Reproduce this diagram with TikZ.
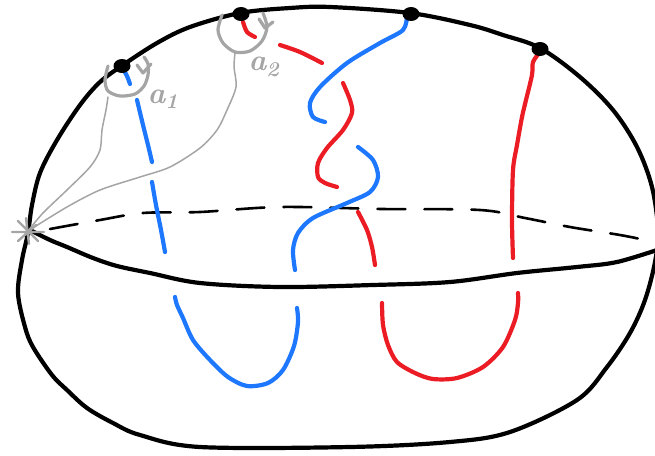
\documentclass[tikz,border=0pt]{standalone}
\usepackage{fontspec}
\definecolor{kblue}{RGB}{30,120,255}
\definecolor{kred}{RGB}{236,28,36}
\definecolor{kgray}{RGB}{165,165,165}
\begin{document}
\begin{tikzpicture}[x=1pt,y=-1pt,
  outline/.style={line width=4.2pt,line cap=round,line join=round},
  rim/.style={line width=2.6pt,line cap=round,dash pattern=on 28pt off 19pt},
  strand/.style={line width=4.2pt,line cap=round,line join=round},
  bluestrand/.style={strand,draw=kblue},
  redstrand/.style={strand,draw=kred},
  loopline/.style={line width=3.2pt,draw=kgray,line cap=round,line join=round},
  thinline/.style={line width=1.5pt,draw=kgray,line cap=round,line join=round},
  looplabel/.style={text=kgray,font=\fontsize{30}{30}\selectfont\bfseries\itshape,inner sep=0pt}]
\useasboundingbox (0,0) rectangle (655,455);

% boundary of the ball
\draw[outline] plot[smooth cycle,tension=0.55] coordinates {
  (28,233) (32,205) (40,173) (57,140) (80,105) (100,82) (123,65) (157,43)
  (190,27) (240,13) (290,8) (330,7) (410,13) (470,25) (503,35) (540,48)
  (580,77) (613,110) (637,147) (652,187) (658,230) (655,262) (645,300)
  (630,333) (607,367) (577,400) (510,432) (450,442) (350,447) (200,447)
  (140,435) (113,423) (87,408) (67,390) (52,375) (33,347) (25,327)
  (18,293) (22,260)};

% equator: front half solid, back half dashed
\draw[outline] plot[smooth,tension=0.55] coordinates {
  (30,230) (50,240) (67,247) (93,258) (117,266) (150,273) (200,283)
  (280,287) (373,285) (450,282) (517,273) (577,267) (617,262) (660,249)};
\draw[rim] plot[smooth,tension=0.55] coordinates {
  (50,229) (100,220) (143,213) (200,212) (280,207) (382,209) (480,210)
  (525,218) (570,227) (620,235) (645,240)};

% punctures on the boundary
\coordinate (p1) at (122,66);
\coordinate (p2) at (241,14);
\coordinate (p3) at (411,14);
\coordinate (p4) at (540,49);

% first blue strand
\draw[bluestrand] plot[smooth] coordinates {(123,69) (127,76) (130,84)};
\draw[bluestrand] plot[smooth] coordinates {(137,100) (143,125) (148,145) (152,162)};
\draw[bluestrand] plot[smooth] coordinates {(152,182) (156,205) (161,230) (165,252)};
\draw[bluestrand] plot[smooth] coordinates {
  (175,297) (177,305) (183,318) (193,340) (210,360) (228,377) (247,386)
  (268,383) (283,370) (294,346) (298,322) (297,308)};

% second blue strand
\draw[bluestrand] plot[smooth] coordinates {
  (407,16) (403,30) (380,43) (347,63) (320,87) (310,103) (313,117) (325,122)};
\draw[bluestrand] plot[smooth] coordinates {
  (358,147) (373,160) (378,177) (370,192) (347,203) (313,218) (298,233)
  (293,250) (295,270)};

% first red strand
\draw[redstrand] plot[smooth] coordinates {(243,22) (247,32) (255,37)};
\draw[redstrand] plot[smooth] coordinates {(280,45) (300,52) (322,63)};
\draw[redstrand] plot[smooth] coordinates {
  (343,83) (350,100) (352,113) (343,130) (327,148) (318,163) (318,177)
  (325,183) (337,187)};
\draw[redstrand] plot[smooth] coordinates {(358,212) (367,230) (372,247) (375,265)};
\draw[redstrand] plot[smooth] coordinates {
  (382,303) (383,325) (388,345) (397,362) (415,373) (433,379) (457,378)
  (483,367) (503,347) (515,320) (518,303) (518,293)};

% second red strand
\draw[redstrand] plot[smooth] coordinates {
  (540,52) (533,62) (532,75) (526,100) (522,117) (517,145) (513,170)
  (512,220) (513,258)};

% base point and the paths to the loops
\coordinate (base) at (28,231);
\draw[thinline] plot[smooth] coordinates {
  (108,97) (106,110) (102,130) (100,150) (90,167) (67,190) (43,213) (28,231)};
\draw[thinline] plot[smooth] coordinates {
  (235,53) (234,67) (236,87) (227,110) (217,130) (200,148) (170,167)
  (140,177) (100,190) (67,207) (28,231)};
\draw[line width=2.4pt,draw=kgray,line cap=round]
  (base) ++(-16,1) -- ++(32,0)
  (base) ++(-2,-13) -- ++(3,26)
  (base) ++(-10,-10) -- ++(20,20)
  (base) ++(-10,10) -- ++(18,-16);

% loops around the punctures
\draw[loopline] plot[smooth] coordinates {
  (108,66) (105,80) (108,91) (120,96) (135,94) (144,86) (148,75) (148,64) (144,57)};
\draw[loopline] (137,65) -- (143,73) -- (151,64);
\draw[loopline] plot[smooth] coordinates {
  (222,15) (218,30) (223,43) (235,52) (250,51) (262,41) (267,27) (263,13)};
\draw[loopline] (259,19) -- (265,28) -- (273,22);

\node[looplabel] (a1) at (163,99) {a\textsubscript{1}};
\node[looplabel] (a2) at (264,67) {a\textsubscript{2}};

% puncture dots
\foreach \p in {p1,p2,p3,p4}
  \fill (\p) ellipse [x radius=8.5pt,y radius=7pt];
\end{tikzpicture}
\end{document}
